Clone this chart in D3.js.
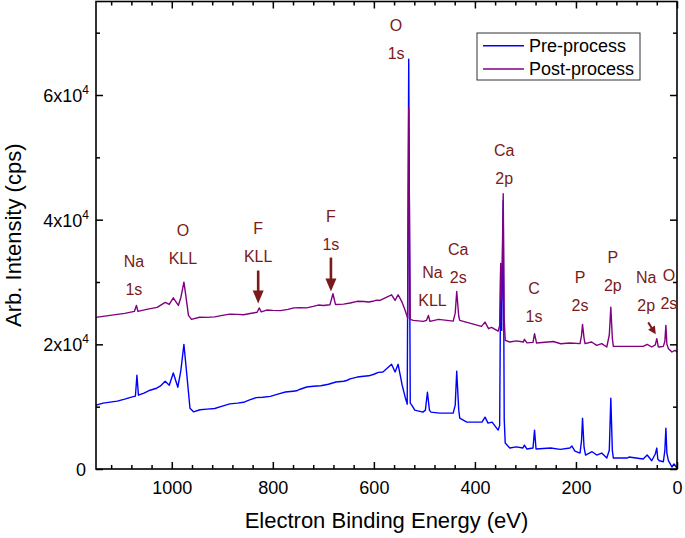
<!DOCTYPE html>
<html><head><meta charset="utf-8">
<script src="https://cdn.jsdelivr.net/npm/d3@7"></script>
<style>
body{margin:0;background:#fff}
svg text{font-family:"Liberation Sans",Arial,Helvetica,sans-serif}
</style>
</head><body>
<svg id="chart" width="685" height="538"></svg>
<script>
// ---------------- data ----------------
const seriesNames = ["Pre-process", "Post-process"];
const seriesColors = ["#0000ff", "#800080"];

// [binding energy (eV), intensity (cps)]
const preSpectrum = [[1150,10240],[1136,10560],[1122,10720],[1108,10880],[1093,11200],[1080,11520],[1072,11680],[1069,15040],[1066,11840],[1055,12160],[1043,12640],[1030,12960],[1023,13280],[1013,14080],[1005,13440],[997,15410],[988,13120],[982,15840],[976,20000],[972,16640],[964,9760],[957,9170],[944,9500],[930,9600],[915,9700],[900,10080],[885,10450],[870,10560],[858,10700],[846,11090],[833,11450],[820,11520],[805,11650],[790,12000],[775,12350],[760,12480],[753,12550],[746,12800],[733,13150],[720,13280],[705,13350],[690,13600],[675,13950],[660,14080],[654,14200],[647,14450],[633,14750],[620,14880],[610,14950],[600,15200],[591,15500],[582,15570],[565,16800],[558,15570],[552,16800],[544,13440],[538,11520],[534,10400],[531,65760],[528,10560],[525,10240],[519,9440],[503,9120],[498,9440],[494,12320],[490,9440],[487,9120],[470,8960],[443,8960],[439,10240],[436,15680],[432,9440],[430,8160],[416,7520],[386,7520],[380,8320],[374,7360],[366,7520],[354,6240],[351,7000],[349,31840],[347,22240],[344,43040],[342,8000],[340,4160],[331,3360],[318,3550],[305,3360],[302,3840],[297,3200],[285,3360],[282,6240],[279,3200],[250,3360],[231,3150],[212,3360],[208,3680],[202,2880],[192,2560],[189,4500],[187,8160],[184,3500],[181,2240],[168,2770],[159,2240],[149,2560],[139,1760],[134,3000],[131,11360],[128,3000],[126,1760],[99,1760],[95,1920],[67,1600],[59,2240],[50,1330],[43,2400],[40,3360],[38,1600],[35,1330],[27,1170],[24,3000],[22,6560],[20,2500],[17,1330],[10,320],[6,800],[0,160]];

const postSpectrum = [[1150,24320],[1136,24480],[1122,24640],[1108,24800],[1093,24960],[1074,25280],[1070,26240],[1067,25280],[1050,25600],[1029,25920],[1013,26720],[1005,26400],[997,27470],[987,26240],[982,27520],[976,29970],[972,27680],[967,24640],[961,24000],[945,24350],[930,24320],[915,24400],[900,24640],[885,24850],[870,24800],[858,24750],[845,24940],[831,25150],[827,25840],[823,25200],[812,25500],[800,25440],[785,25400],[770,25600],[758,25850],[746,25860],[733,25850],[720,26080],[710,26300],[700,26240],[687,26340],[681,28110],[676,26400],[660,26450],[647,26640],[633,26900],[620,26880],[610,26800],[600,26960],[594,27100],[588,27040],[565,27950],[558,27040],[552,27950],[544,26720],[538,25440],[533,24160],[531,57920],[528,24000],[522,23840],[502,23680],[496,23840],[492,24640],[489,23680],[472,24000],[443,23730],[439,25000],[436,28480],[432,24500],[430,23840],[387,22880],[380,23570],[373,22510],[367,22720],[354,22130],[351,23000],[349,32960],[347,27040],[344,44160],[342,24000],[340,20640],[331,20370],[318,20550],[304,20370],[302,20800],[297,20240],[285,20320],[282,21710],[278,20210],[245,20450],[230,20100],[212,20210],[192,20110],[189,21400],[187,23200],[184,21000],[182,20110],[169,20370],[159,19840],[149,20110],[139,19570],[134,21500],[131,25970],[128,21000],[126,19680],[100,19680],[67,19680],[59,20000],[50,19570],[43,19900],[40,20910],[37,19600],[35,19570],[27,19680],[24,20500],[22,23040],[20,20000],[17,19310],[10,18770],[4,19040],[0,18770]];

const xMajorTicks = [0,200,400,600,800,1000];
const xMinorTicks = [40,80,120,160,240,280,320,360,440,480,520,560,640,680,720,760,840,880,920,960,1040,1080,1120];
const yMajorTicks = [0,20000,40000,60000];
const yMinorTicks = [10000,30000,50000,70000];

const peakLabels = [["Na","1s"],["O","KLL"],["F","KLL"],["F","1s"],["O","1s"],["Na","KLL"],["Ca","2s"],["Ca","2p"],["C","1s"],["P","2s"],["P","2p"],["Na","2p"],["O","2s"]];
const peakLabelEnergy = [1075,978,829,685,556,484,433,342,283,192,127,61,16];
const peakLabelCounts = [33280,38240,38560,40480,71200,31520,35200,51040,28960,30720,33920,30720,31040];

const arrowFromEnergy = [829,685,57];
const arrowFromCounts = [31840,33920,23520];
const arrowToEnergy = [829,685,42];
const arrowToCounts = [26560,28480,21600];

// ---------------- chart ----------------
const svg = d3.select("#chart");
const W = 685, H = 538;
const L = 96, R = 677, T = 1.5, B = 469;
const ink = "#000";
const annColor = "#7a1a1a";

const x = d3.scaleLinear().domain([1150, 0]).range([L, R]);
const y = d3.scaleLinear().domain([0, 75000]).range([B, T]);

svg.append("rect").attr("width", W).attr("height", H).attr("fill", "#fff");

// series
const line = d3.line().x(d => x(d[0])).y(d => y(d[1]));
[preSpectrum, postSpectrum].forEach((data, i) => {
  svg.append("path").datum(data)
    .attr("d", line)
    .attr("fill", "none")
    .attr("stroke", seriesColors[i])
    .attr("stroke-width", 1.4)
    .attr("stroke-linejoin", "round");
});

// axes
function styleAxis(g) {
  g.select(".domain").remove();
  g.selectAll(".tick line").attr("stroke", ink).attr("stroke-width", 1.5);
  g.selectAll(".tick text").attr("fill", ink);
}
const bottomMajor = svg.append("g").attr("transform", `translate(0,${B})`)
  .call(d3.axisBottom(x).tickValues(xMajorTicks).tickSizeInner(-7).tickSizeOuter(0).tickPadding(12).tickFormat(d3.format("d")));
styleAxis(bottomMajor);
bottomMajor.selectAll(".tick text").attr("font-size", 18).style("font-family", '"Liberation Sans",Arial,sans-serif');
styleAxis(svg.append("g").attr("transform", `translate(0,${B})`)
  .call(d3.axisBottom(x).tickValues(xMinorTicks).tickSizeInner(-4).tickSizeOuter(0).tickFormat("")));
styleAxis(svg.append("g").attr("transform", `translate(0,${T})`)
  .call(d3.axisTop(x).tickValues(xMajorTicks).tickSizeInner(-7).tickSizeOuter(0).tickFormat("")));
styleAxis(svg.append("g").attr("transform", `translate(0,${T})`)
  .call(d3.axisTop(x).tickValues(xMinorTicks).tickSizeInner(-4).tickSizeOuter(0).tickFormat("")));

styleAxis(svg.append("g").attr("transform", `translate(${L},0)`)
  .call(d3.axisLeft(y).tickValues(yMajorTicks).tickSizeInner(-7).tickSizeOuter(0).tickFormat("")));
styleAxis(svg.append("g").attr("transform", `translate(${L},0)`)
  .call(d3.axisLeft(y).tickValues(yMinorTicks).tickSizeInner(-4).tickSizeOuter(0).tickFormat("")));
styleAxis(svg.append("g").attr("transform", `translate(${R},0)`)
  .call(d3.axisRight(y).tickValues(yMajorTicks).tickSizeInner(-7).tickSizeOuter(0).tickFormat("")));
styleAxis(svg.append("g").attr("transform", `translate(${R},0)`)
  .call(d3.axisRight(y).tickValues(yMinorTicks).tickSizeInner(-4).tickSizeOuter(0).tickFormat("")));

// y tick labels with superscript exponent
yMajorTicks.forEach(v => {
  const t = svg.append("text")
    .attr("x", v === 0 ? 86 : 89).attr("y", y(v) + 7)
    .attr("text-anchor", "end").attr("font-size", 18).attr("fill", ink);
  if (v === 0) { t.text("0"); }
  else {
    t.append("tspan").text(`${v / 10000}x10`);
    t.append("tspan").attr("font-size", 12).attr("dy", -8).text("4");
  }
});

// frame
svg.append("rect").attr("x", L).attr("y", T).attr("width", R - L).attr("height", B - T)
  .attr("fill", "none").attr("stroke", ink).attr("stroke-width", 1.6);

// axis titles
svg.append("text").attr("x", (L + R) / 2).attr("y", 528).attr("text-anchor", "middle")
  .attr("font-size", 22).attr("fill", ink).text("Electron Binding Energy (eV)");
svg.append("text").attr("transform", `translate(21,${(T + B) / 2}) rotate(-90)`)
  .attr("text-anchor", "middle").attr("font-size", 22).attr("fill", ink).text("Arb. Intensity (cps)");

// peak annotations
peakLabels.forEach((lines, i) => {
  lines.forEach((s, j) => {
    svg.append("text")
      .attr("x", x(peakLabelEnergy[i]))
      .attr("y", y(peakLabelCounts[i]) + 28 * j + 5.5)
      .attr("text-anchor", "middle").attr("font-size", 16)
      .attr("fill", annColor).text(s);
  });
});

// arrows
arrowFromEnergy.forEach((e, i) => {
  const x1 = x(e), y1 = y(arrowFromCounts[i]);
  const x2 = x(arrowToEnergy[i]), y2 = y(arrowToCounts[i]);
  const dx = x2 - x1, dy = y2 - y1, len = Math.hypot(dx, dy);
  const ux = dx / len, uy = dy / len;
  const small = len < 20;
  const hl = small ? 8 : 13, hw = small ? 4 : 5.5, sw = small ? 2 : 2.6;
  const bx = x2 - ux * hl, by = y2 - uy * hl;
  svg.append("line").attr("x1", x1).attr("y1", y1).attr("x2", bx + ux).attr("y2", by + uy)
    .attr("stroke", annColor).attr("stroke-width", sw);
  svg.append("path")
    .attr("d", `M${x2},${y2}L${bx - uy * hw},${by + ux * hw}L${bx + uy * hw},${by - ux * hw}Z`)
    .attr("fill", annColor);
});

// legend
const lg = svg.append("g");
lg.append("rect").attr("x", 477).attr("y", 33).attr("width", 163).attr("height", 47)
  .attr("fill", "#fff").attr("stroke", "#333").attr("stroke-width", 1);
seriesNames.forEach((n, i) => {
  const yy = 45.7 + i * 23.3;
  lg.append("line").attr("x1", 483).attr("x2", 524).attr("y1", yy).attr("y2", yy)
    .attr("stroke", seriesColors[i]).attr("stroke-width", 1.5);
  lg.append("text").attr("x", 529).attr("y", yy + 6.3).attr("font-size", 18)
    .attr("fill", ink).text(n);
});
</script>
</body></html>
